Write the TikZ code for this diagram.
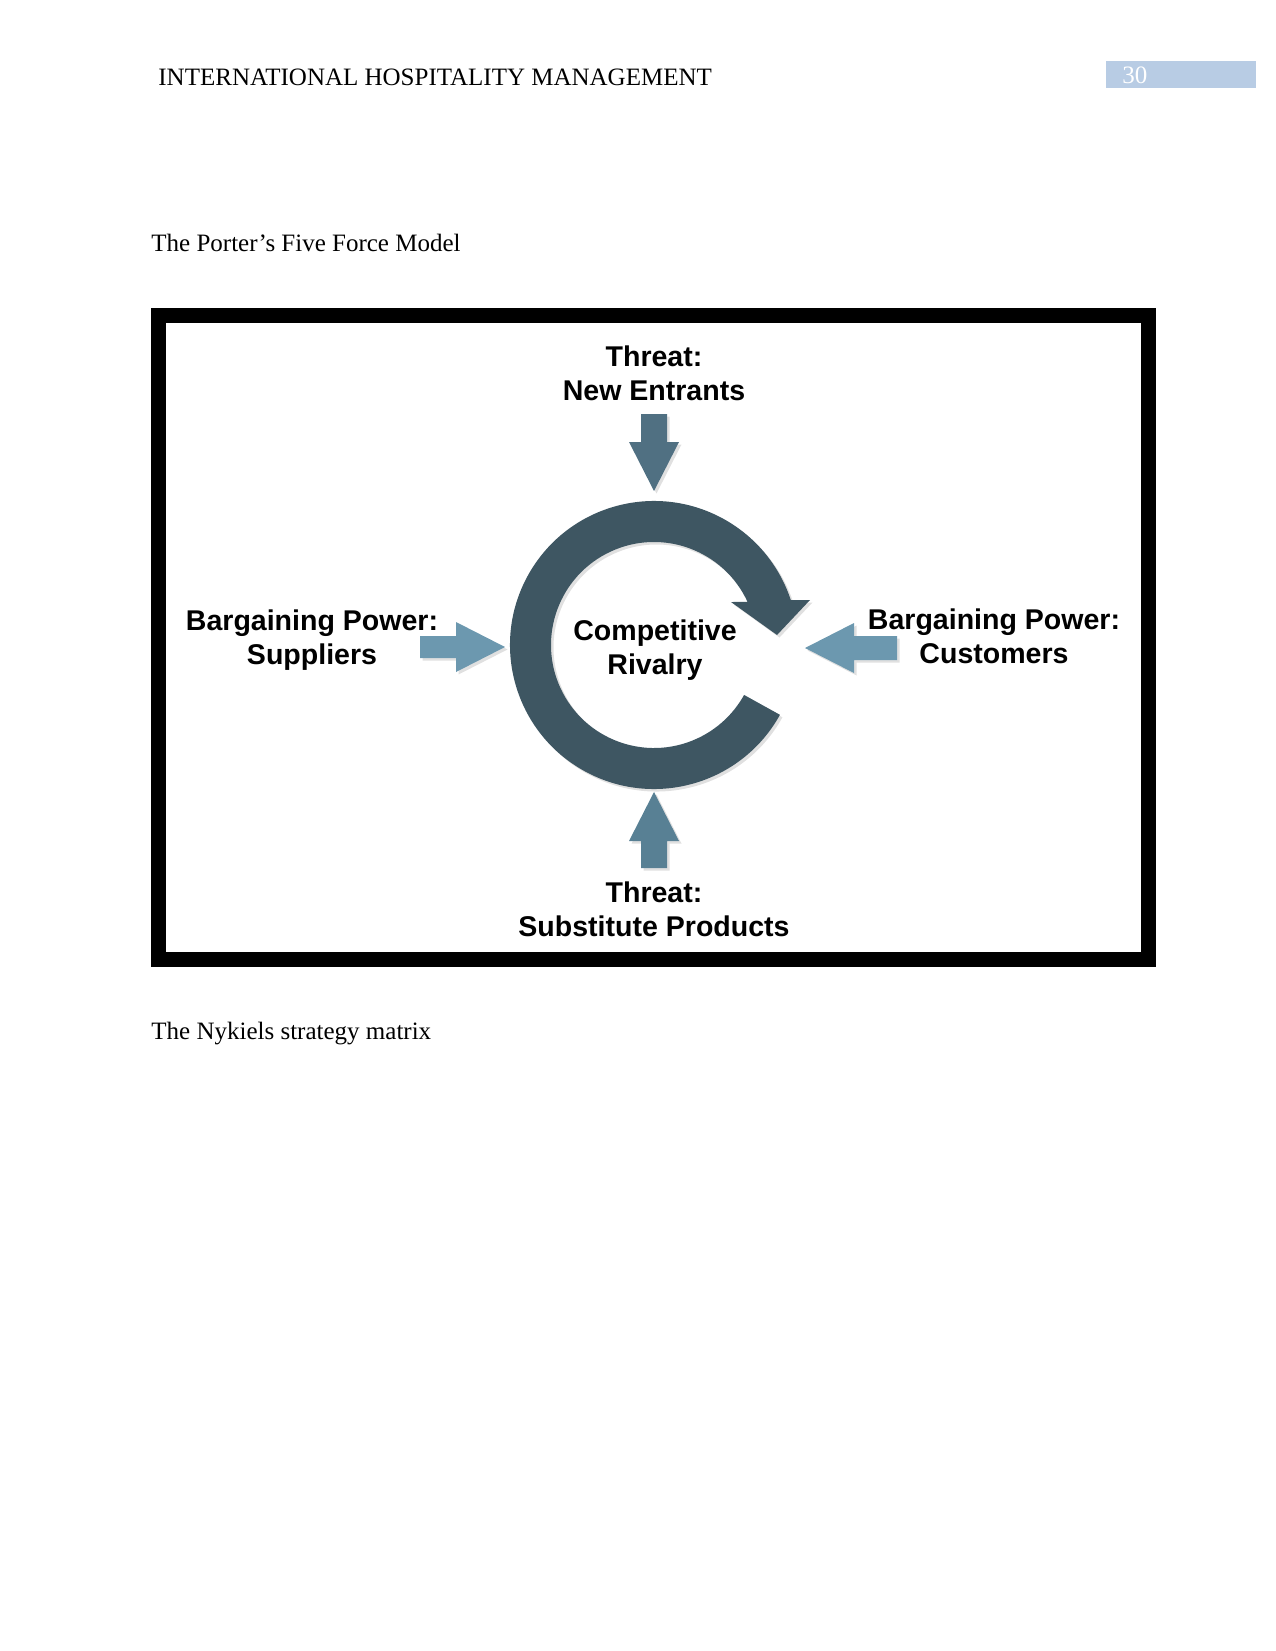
\documentclass[tikz,border=0pt]{standalone}
\usepackage{fontspec}
\setmainfont{Liberation Serif}
\newfontfamily\labelfont{Liberation Sans}
\usetikzlibrary{shadows}
\definecolor{ringslate}{RGB}{62,86,98}
\definecolor{forcedark}{RGB}{80,112,130}
\definecolor{forcemid}{RGB}{88,128,148}
\definecolor{forcelight}{RGB}{108,152,175}
\definecolor{pageblue}{RGB}{184,204,228}

\begin{document}
\begin{tikzpicture}[x=.48pt,y=.48pt,
    page/.style={font=\fontsize{12}{14.4}\selectfont,inner sep=0pt},
    force/.style={font=\labelfont\bfseries\fontsize{13.7}{16.2}\selectfont,
      align=center,inner sep=0pt},
    soft/.style={drop shadow={shadow xshift=1.2pt,shadow yshift=-1.2pt,
      opacity=.12,fill=black}}]
  \useasboundingbox (0,0) rectangle (1275,-1651);
  % Kopfzeile und Text der Seite
  \fill[pageblue] (1106,-61) rectangle (1256,-88);
  \node[page,anchor=west,text=white] (pgno) at (1122,-75) {30};
  \node[page,anchor=west] (header) at (158,-77) {INTERNATIONAL HOSPITALITY MANAGEMENT};
  \node[page,anchor=west] (title) at (151,-243) {The Porter’s Five Force Model};
  \node[page,anchor=west] (next) at (151,-1034) {The Nykiels strategy matrix};
  % Rahmen um das Modell
  \draw[line width=7.2pt] (158.5,-315.2) rectangle (1148,-959.5);
  % Ring der Rivalitaet, im Uhrzeigersinn
  \coordinate (rc) at (654,-645);
  \fill[ringslate,soft] ([shift={(rc)}]-29:144)
      arc[start angle=-29,end angle=-341.8,radius=144]
      -- (810,-600) -- (777,-635) -- (731,-602)
      -- ([shift={(rc)}]24.7:103)
      arc[start angle=24.7,end angle=331,radius=103] -- cycle;
  % vier Kraefte als Blockpfeile
  \foreach \tx/\ty/\ang/\len/\half/\col in {654/-491/-90/77/13/forcedark,
      505/-647/0/85/11/forcelight,805/-648/180/92/12/forcelight,
      654/-792/90/76/13/forcemid}{
    \fill[\col,soft,shift={(\tx,\ty)},rotate=\ang] (0,0) -- (-49,-25)
      -- (-49,-\half) -- (-\len,-\half) -- (-\len,\half) -- (-49,\half)
      -- (-49,25) -- cycle;
  }
  \node[force] (entrants) at (654,-373) {Threat:\\New Entrants};
  \node[force] (suppliers) at (312,-640) {Bargaining Power:\\Suppliers};
  \node[force] (customers) at (994,-636) {Bargaining Power:\\Customers};
  \node[force] (rivalry) at (655,-650) {Competitive\\Rivalry};
  \node[force] (substitutes) at (654,-909) {Threat:\\Substitute Products};
\end{tikzpicture}
\end{document}
